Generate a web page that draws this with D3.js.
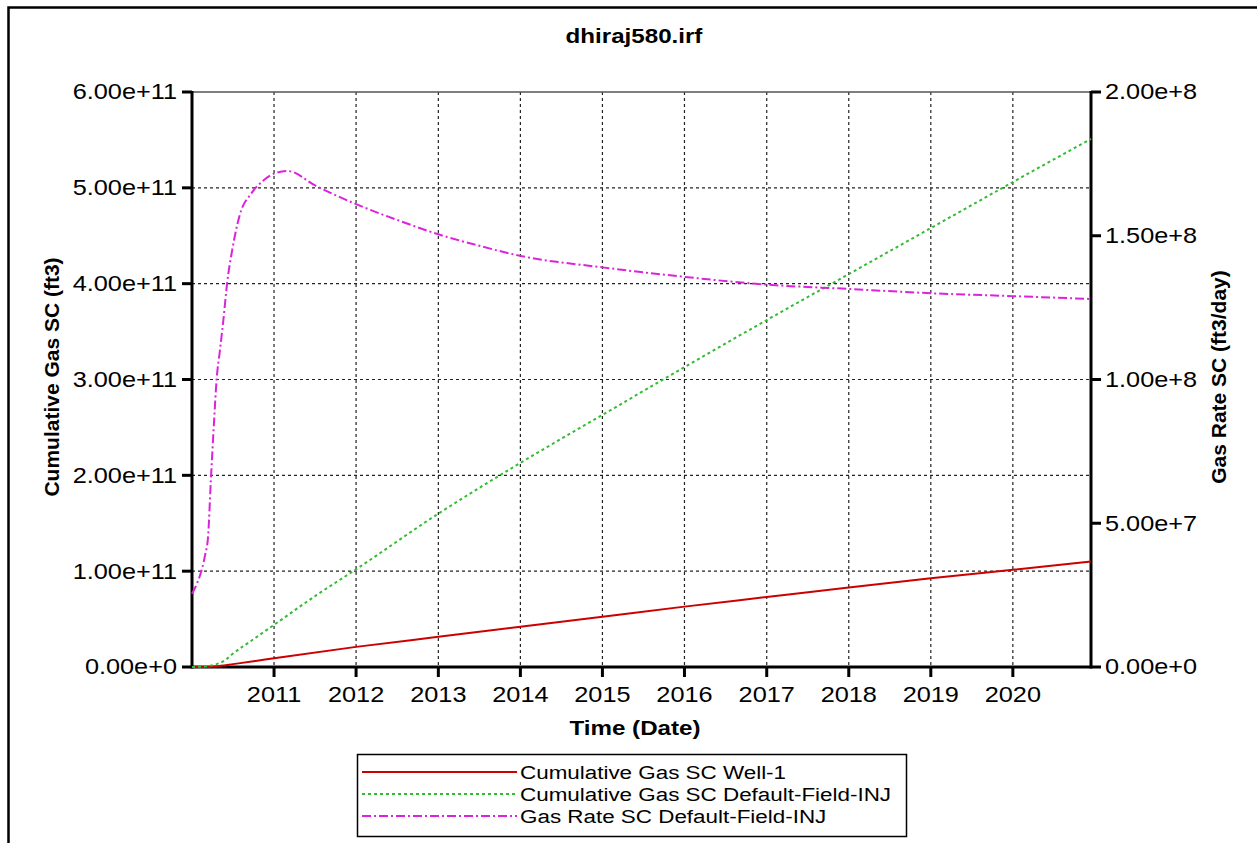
<!DOCTYPE html>
<html><head><meta charset="utf-8">
<script src="https://cdnjs.cloudflare.com/ajax/libs/d3/7.8.5/d3.min.js"></script>
<style>body{margin:0;background:#fff}svg{display:block}text{font-family:"Liberation Sans",Arial,sans-serif;fill:#000}</style>
</head><body><svg id="c" width="1257" height="843"></svg>
<script>
// ---- data (decimal years, values) ----
const titleText = "dhiraj580.irf";
const xTitle = "Time (Date)";
const yLeftTitle = "Cumulative Gas SC (ft3)";
const yRightTitle = "Gas Rate SC (ft3/day)";
const seriesNames = ["Cumulative Gas SC Well-1","Cumulative Gas SC Default-Field-INJ","Gas Rate SC Default-Field-INJ"];
const xDomain = [2010.0, 2020.95];
const xTickYears = [2011,2012,2013,2014,2015,2016,2017,2018,2019,2020];
const leftTicks = [0,1e11,2e11,3e11,4e11,5e11,6e11];
const rightTicks = [0,5e7,1e8,1.5e8,2e8];

const well1Years  = [2010.0,2010.2,2010.35,2010.5,2010.75,2011,2012,2013,2014,2015,2016,2017,2018,2019,2020,2020.95];
const well1Values = [0,0,0.012e11,0.03e11,0.06e11,0.092e11,0.21e11,0.315e11,0.42e11,0.525e11,0.63e11,0.73e11,0.83e11,0.925e11,1.015e11,1.10e11];

const injCumYears  = [2010.0,2010.1,2010.2,2010.3,2010.4,2010.5,2010.75,2011,2011.5,2012,2013,2014,2015,2016,2017,2018,2019,2020,2020.95];
const injCumValues = [0,0.003e11,0.012e11,0.03e11,0.07e11,0.14e11,0.29e11,0.44e11,0.74e11,1.02e11,1.60e11,2.13e11,2.63e11,3.13e11,3.62e11,4.10e11,4.58e11,5.06e11,5.51e11];

const rateYears  = [2010.0,2010.06,2010.12,2010.16,2010.195,2010.23,2010.27,2010.30,2010.34,2010.38,2010.43,2010.49,2010.58,2010.73,2010.86,2011.04,2011.17,2011.5,2012.0,2012.5,2013,2013.5,2014,2015,2016,2017,2018,2019,2020,2020.95];
const rateValues = [2.55e7,2.9e7,3.4e7,3.9e7,4.5e7,6.5e7,8.6e7,1.0e8,1.10e8,1.20e8,1.34e8,1.45e8,1.57e8,1.65e8,1.69e8,1.72e8,1.725e8,1.675e8,1.61e8,1.555e8,1.505e8,1.465e8,1.43e8,1.39e8,1.357e8,1.33e8,1.315e8,1.30e8,1.29e8,1.28e8];

// ---- helpers ----
function yd(y){ const yr=Math.floor(y); const a=Date.UTC(yr,0,1), b=Date.UTC(yr+1,0,1); return new Date(a+(y-yr)*(b-a)); }
const fmt = v => v===0 ? "0.00e+0" : v.toExponential(2);

const svg = d3.select("#c");
const L=192, R=1091, T=92, B=667;
const SX = 1.15;
const x = d3.scaleUtc().domain(xDomain.map(yd)).range([L,R]);
const yL = d3.scaleLinear().domain([0,6e11]).range([B,T]);
const yR = d3.scaleLinear().domain([0,2e8]).range([B,T]);

function txt(g,x0,y0,s,opt){
  const t=g.append("text").attr("transform",`translate(${x0},${y0}) scale(${opt.sx||SX},1)`)
   .attr("font-size",opt.size).attr("text-anchor",opt.anchor||"start").text(s);
  if(opt.bold) t.attr("font-weight","bold");
  if(opt.base) t.attr("dominant-baseline",opt.base);
  return t;
}

// outer border
svg.append("rect").attr("x",8.5).attr("y",7.5).attr("width",1400).attr("height",1000).attr("fill","none").attr("stroke","#000").attr("stroke-width",2.5);

// title
txt(svg,634,43,titleText,{size:21,bold:true,anchor:"middle"});

// gridlines
const grid = svg.append("g").attr("stroke","#222").attr("stroke-width",1.2).attr("stroke-dasharray","3,3");
xTickYears.forEach(y=>grid.append("line").attr("x1",x(yd(y))).attr("x2",x(yd(y))).attr("y1",T).attr("y2",B));
leftTicks.filter(v=>v>0&&v<6e11).forEach(v=>grid.append("line").attr("x1",L).attr("x2",R).attr("y1",yL(v)).attr("y2",yL(v)));

// top frame line
svg.append("line").attr("x1",L).attr("x2",R).attr("y1",T).attr("y2",T).attr("stroke","#555").attr("stroke-width",1.5);

// axes
const ax = svg.append("g");
ax.append("line").attr("x1",L).attr("x2",L).attr("y1",T-1).attr("y2",B+1.5).attr("stroke","#000").attr("stroke-width",3);
ax.append("line").attr("x1",R).attr("x2",R).attr("y1",T-1).attr("y2",B+1.5).attr("stroke","#000").attr("stroke-width",3);
ax.append("line").attr("x1",L).attr("x2",R).attr("y1",B).attr("y2",B).attr("stroke","#000").attr("stroke-width",3);
leftTicks.forEach(v=>{
  ax.append("line").attr("x1",L-10).attr("x2",L).attr("y1",yL(v)).attr("y2",yL(v)).attr("stroke","#000").attr("stroke-width",3);
  txt(ax,177,yL(v),fmt(v),{size:22,anchor:"end",base:"central"});
});
rightTicks.forEach(v=>{
  ax.append("line").attr("x1",R).attr("x2",R+10).attr("y1",yR(v)).attr("y2",yR(v)).attr("stroke","#000").attr("stroke-width",3);
  txt(ax,1105,yR(v),fmt(v),{size:22,anchor:"start",base:"central"});
});
xTickYears.forEach(y=>{
  const px=x(yd(y));
  ax.append("line").attr("x1",px).attr("x2",px).attr("y1",B).attr("y2",B+10).attr("stroke","#000").attr("stroke-width",3);
  txt(ax,px,702,String(y),{size:22,anchor:"middle"});
});

// axis titles
txt(svg,635,735,xTitle,{size:21,bold:true,anchor:"middle"});
svg.append("text").attr("transform",`translate(59,377) rotate(-90)`).attr("font-size",21).attr("font-weight","bold").attr("text-anchor","middle").text(yLeftTitle);
svg.append("text").attr("transform",`translate(1226,377) rotate(-90)`).attr("font-size",21).attr("font-weight","bold").attr("text-anchor","middle").text(yRightTitle);

// series
const styles = [
  {color:"#cc0000",dash:null},
  {color:"#33bb33",dash:"3,3"},
  {color:"#dd22dd",dash:"9,3,2,3"}
];
const lineL = d3.line().x(d=>x(yd(d[0]))).y(d=>yL(d[1])).curve(d3.curveMonotoneX);
const lineR = d3.line().x(d=>x(yd(d[0]))).y(d=>yR(d[1])).curve(d3.curveMonotoneX);
const sets = [
  {data:d3.zip(well1Years,well1Values),line:lineL},
  {data:d3.zip(injCumYears,injCumValues),line:lineL},
  {data:d3.zip(rateYears,rateValues),line:lineR}
];
sets.forEach((s,i)=>{
  const p=svg.append("path").attr("d",s.line(s.data)).attr("fill","none").attr("stroke",styles[i].color).attr("stroke-width",2);
  if(styles[i].dash) p.attr("stroke-dasharray",styles[i].dash);
});

// legend
const lg = svg.append("g");
lg.append("rect").attr("x",357.5).attr("y",754.5).attr("width",549).attr("height",82).attr("fill","#fff").attr("stroke","#000").attr("stroke-width",1.5);
const rowY=[772,794,816];
seriesNames.forEach((n,i)=>{
  const l=lg.append("line").attr("x1",362).attr("x2",517).attr("y1",rowY[i]).attr("y2",rowY[i]).attr("stroke",styles[i].color).attr("stroke-width",2);
  if(styles[i].dash) l.attr("stroke-dasharray",styles[i].dash);
  txt(lg,520,rowY[i],n,{size:19,anchor:"start",base:"central",sx:1.18});
});
</script></body></html>
